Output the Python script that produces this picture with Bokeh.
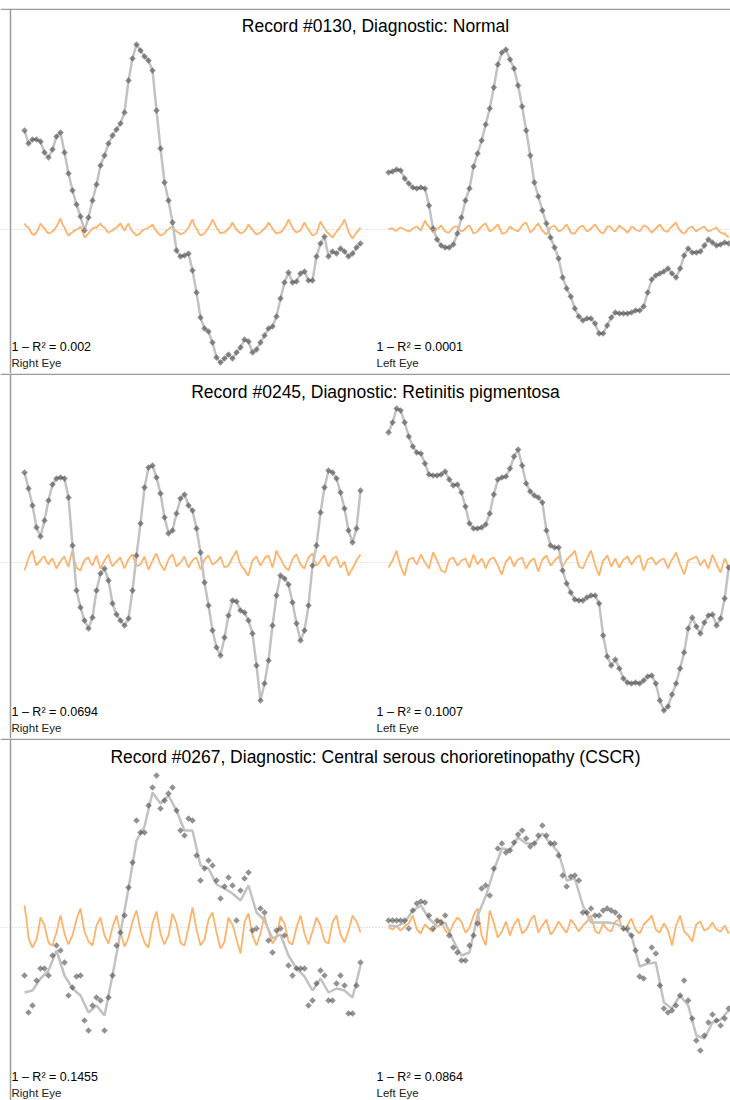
import numpy as np
from bokeh.plotting import figure
from bokeh.layouts import column
from bokeh.models import Range1d, Span, Label, Spacer
from bokeh.embed import file_html
from bokeh.resources import INLINE

# ---------------- data (values are relative amplitudes, 0 = baseline) ----------------
titles = ["Record #0130, Diagnostic: Normal",
          "Record #0245, Diagnostic: Retinitis pigmentosa",
          "Record #0267, Diagnostic: Central serous chorioretinopathy (CSCR)"]
r2_right = ["0.002", "0.0694", "0.1455"]
r2_left = ["0.0001", "0.1007", "0.0864"]
eye_right = "Right Eye"
eye_left = "Left Eye"

# Record 0130
rec1_right_pts = [99, 86, 90, 90, 88, 77, 72, 80, 93, 97,
                  77, 56, 39, 25, 13, -1, 12, 29, 45, 64,
                  74, 86, 94, 100, 106, 117, 149, 171, 185, 179,
                  173, 169, 159, 119, 81, 47, 29, 7, -21, -27,
                  -26, -24, -41, -63, -88, -99, -102, -113, -128, -133,
                  -129, -125, -129, -123, -118, -110, -112, -123, -120, -113,
                  -106, -99, -97, -87, -69, -53, -43, -53, -52, -44,
                  -42, -51, -51, -27, -14, -7, -27, -22, -24, -19,
                  -22, -27, -24, -18, -14]
rec1_right_res = [6, 3, 2, -2, -5, -5, -3, 1, 6, 3, 1, -2, -4, -3, -2, 0, 3, 7, 11, 5,
                  2, -3, -6, -4, -3, -1, 0, 1, 3, -2, -8, -6, -4, -1, 1, 2, 2, 4, 6, 3,
                  2, -1, -3, -2, -1, 1, 2, 4, 6, 2, -1, 3, 6, 1, -2, -4, -6, -5, -3, -1,
                  0, 1, 2, 3, 5, 1, -2, -4, -6, -5, -4, -1, 0, 2, 3, 0, -2, -3, -5, -4,
                  -3, -1, 2, 6, 10, 4, 1, -3, -6, -5, -4, -1, 2, 5, 10, 6, 2, -1, -4, -3,
                  -3, -1, 1, 3, 7, 3, 0, -2, -4, -3, -2, 1, 5, 2, 0, -3, -5, -4, -3, -1,
                  1, 3, 7, 4, 1, -2, -4, -3, -3, -1, 2, 5, 10, 6, 2, -1, -3, -2, -1, 3,
                  7, 3, 0, -3, -6, -5, -4, 2, 8, 4, 1, -2, -4, -6, -8, -5, -2, 0, 3, 6,
                  10, 4, -2, -6, -9, -6, -3, -1, 2]
rec1_left_pts = [57, 58, 60, 59, 51, 46, 42, 41, 42, 41,
                 24, 1, -10, -16, -18, -18, -15, -4, 12, 29,
                 41, 63, 76, 89, 105, 121, 142, 165, 177, 180,
                 170, 161, 144, 123, 99, 74, 47, 33, 19, 6,
                 -8, -18, -29, -48, -59, -67, -79, -87, -91, -89,
                 -89, -94, -104, -104, -96, -88, -83, -84, -84, -84,
                 -83, -81, -81, -77, -63, -50, -46, -44, -42, -39,
                 -44, -48, -39, -26, -19, -23, -23, -22, -16, -10,
                 -13, -16, -15, -13, -14]
rec1_left_res = [0, 1, 1, -1, -1, 1, 2, 1, 0, -1, -2, -1, 1, 2, 3, 1, -1, 4, 9, 5,
                 3, 0, -3, -2, 1, 2, 4, 1, -2, -3, -3, 0, 2, 3, 3, 0, -2, -1, 1, 3,
                 4, 0, -4, -3, -2, 1, 3, 5, 6, 2, -2, -1, 1, 3, 5, 1, -4, -4, -3, 0,
                 3, 1, 0, -1, -2, 1, 4, 6, 7, 2, -3, -1, 1, 4, 6, 2, -1, -3, -5, -2,
                 2, 3, 4, 1, -2, -1, 0, 3, 5, 1, -3, -4, -4, -1, 2, 3, 4, 1, -2, -1,
                 1, 3, 5, 2, -1, -3, -4, -1, 3, 3, 2, -1, -2, 1, 4, 2, 1, -1, -3, -1,
                 3, 2, 0, -1, -2, 1, 4, 3, 2, -1, -3, -1, 1, 3, 5, 2, -1, -2, -2, 1,
                 3, 5, 7, 2, -1, -3, -4, -2, 1, 2, 3, 0, -2, 0, 1, 2, 3, 0, -2, -1,
                 0, 1, 2, -1, -3, -4, -4, -6, -8]

# Record 0245
rec2_right_pts = [90, 74, 57, 35, 26, 42, 62, 78, 84, 85,
                  84, 65, 17, -28, -45, -58, -66, -55, -28, -11,
                  -6, -18, -41, -52, -58, -63, -56, -28, 7, 39,
                  75, 95, 97, 85, 69, 45, 29, 32, 49, 64,
                  68, 57, 52, 34, 10, -20, -43, -68, -85, -93,
                  -75, -53, -38, -39, -48, -50, -58, -71, -103, -138,
                  -121, -98, -63, -33, -13, -16, -22, -40, -61, -78,
                  -68, -43, -3, 17, 50, 75, 92, 90, 84, 70,
                  54, 32, 20, 34, 72]
rec2_right_res = [-8, -2, 4, 9, 12, 3, -3, 0, 2, 5, 6, 1, -2, 2, 4, -1, -6, -2, 1, 4,
                  6, 0, -4, 5, 12, 2, -5, -7, -8, -2, 2, 4, 5, 0, -3, 2, 7, 0, -6, -2,
                  2, 5, 8, 1, -4, -1, 1, 3, 5, -1, -6, -1, 3, 6, 8, 2, -3, -3, -2, 2,
                  6, -1, -7, -3, 2, 6, 9, 3, -2, -5, -8, -2, 3, 6, 8, 2, -4, -2, 0, 3,
                  6, 0, -5, -1, 2, 4, 5, -1, -7, -2, 3, 5, 7, 2, -2, -1, 1, 3, 6, 0,
                  -5, -4, -3, 1, 5, 8, 12, 4, -2, -5, -7, -11, -13, -5, 2, 4, 6, 1, -3, 0,
                  4, 6, 7, 1, -5, 3, 12, 7, 4, 0, -4, -6, -8, -2, 3, 6, 8, 3, -2, -4,
                  -6, 0, 5, 7, 9, 2, -3, -1, 2, 5, 7, 1, -4, 0, 4, 5, 6, 0, -5, -2,
                  1, -6, -13, -9, -6, -2, 2, 5, 8]
rec2_left_pts = [130, 140, 154, 152, 140, 126, 116, 110, 109, 99,
                 88, 87, 87, 88, 91, 83, 77, 78, 70, 56,
                 39, 34, 34, 35, 38, 49, 68, 83, 85, 86,
                 94, 106, 113, 97, 79, 71, 67, 65, 60, 32,
                 17, 15, 15, -8, -21, -30, -37, -38, -38, -35,
                 -33, -33, -41, -73, -94, -103, -97, -106, -116, -120,
                 -121, -120, -121, -118, -114, -113, -121, -138, -148, -144,
                 -132, -121, -106, -90, -66, -55, -64, -71, -60, -53,
                 -52, -63, -56, -36, -5]
rec2_left_res = [-5, -1, 2, 7, 12, 3, -4, -9, -13, -4, 3, 4, 5, 1, -2, 3, 8, 4, 0, -3,
                 -6, 2, 10, 6, 2, -3, -8, -9, -10, -3, 3, 4, 5, 1, -3, -1, 2, 3, 4, -1,
                 -5, 2, 8, 3, -2, 1, 4, 0, -6, -1, 3, 4, 5, 1, -3, -8, -12, -5, 1, 3,
                 6, 1, -4, 0, 3, 4, 5, -1, -6, -2, 1, 3, 4, -3, -9, -3, 3, 5, 7, 2,
                 -3, -1, 2, 4, 6, 1, -4, -1, 3, 5, 7, 9, 12, 4, -4, -5, -6, -1, 4, 8,
                 12, 5, -2, -8, -13, -5, 2, 4, 7, 2, -4, 0, 4, -1, -5, -1, 3, 4, 6, 2,
                 -2, 1, 4, 6, 7, -1, -8, -3, 3, 4, 5, 2, -2, 0, 2, 3, 4, -1, -6, -1,
                 3, 6, 10, 4, -2, -7, -12, -5, 2, 3, 4, 5, 6, 2, -3, 0, 3, -2, -6, 1,
                 8, 3, -2, -6, -10, -3, 4, 0, -6]

# Record 0267
rec3_right_pts = [-48, -85, -78, -53, -41, -41, -48, -28, -18, -23,
                  -35, -68, -60, -49, -48, -93, -103, -78, -70, -73,
                  -103, -70, -48, -18, -5, 12, 40, 65, 107, 95,
                  95, 122, 140, 152, 119, 127, 134, 140, 117, 97,
                  92, 109, 107, 72, 47, 59, 67, 62, 47, 29,
                  41, 50, 42, 7, 37, 49, 55, -3, -1, 19,
                  15, -13, -25, -3, -1, -8, -38, -48, -41, -41,
                  -41, -78, -73, -56, -43, -48, -73, -73, -56, -48,
                  -58, -86, -86, -58, -35]
rec3_right_fit = [-65, -63, -51, -43, -23, -48, -61, -68, -85, -78,
                  -88, -48, -5, 39, 87, 101, 135, 124, 132, 117,
                  97, 97, 62, 59, 43, 39, 34, 27, 42, 15,
                  7, -11, -7, -28, -41, -49, -63, -51, -65, -61,
                  -63, -70, -38]
rec3_right_res = [22, 8, -10, -16, -20, -16, -12, -2, 10, 6, 2, -7, -15, -17, -18, -11, -5, 4, 12, 3,
                  -6, -12, -17, -12, -8, 0, 8, 14, 19, 7, -4, -9, -14, -16, -18, -8, 2, 6, 10, 1,
                  -8, -12, -16, -8, 0, 6, 12, 3, -5, -12, -19, -15, -10, -2, 6, 12, 17, 7, -3, -9,
                  -15, -18, -20, -8, 4, 10, 16, 5, -6, -12, -17, -12, -8, 3, 14, 9, 4, -6, -15, -17,
                  -18, -9, 0, 10, 20, 9, -2, -10, -18, -15, -12, -2, 8, 12, 15, 5, -5, -13, -21, -18,
                  -14, -2, 10, 6, 3, -4, -12, -19, -26, -11, 5, 10, 14, 3, -8, -13, -18, -12, -6, 3,
                  12, 4, -3, -10, -16, -13, -10, 0, 11, 7, 4, -5, -14, -16, -17, -8, 0, 6, 12, 3,
                  -6, -12, -17, -10, -4, 3, 10, 6, 2, -6, -13, -15, -16, -5, 5, 9, 12, 2, -7, -11,
                  -15, -9, -3, 4, 12, 9, 6, 1, -5]
rec3_left_pts = [7, 7, 7, 7, 7, -1, 17, 24, 26, 25,
                 12, -1, 7, 5, 12, -8, -20, -25, -33, -33,
                 -18, -8, 4, 39, 42, 32, 59, 79, 84, 75,
                 77, 85, 93, 97, 89, 81, 84, 92, 102, 92,
                 84, 84, 72, 52, 41, 51, 52, 47, 15, 15,
                 19, 12, 12, 17, 19, 17, 15, 11, -1, -1,
                 -8, -23, -49, -51, -33, -20, -26, -58, -81, -85,
                 -83, -78, -68, -53, -73, -91, -113, -123, -108, -95,
                 -87, -93, -98, -91, -81]
rec3_left_fit = [2, 1, 5, 17, 22, 9, 1, 5, -13, -28,
                 -25, 12, 31, 57, 79, 78, 90, 84, 84, 94,
                 84, 75, 47, 49, 22, 5, 5, 5, 4, 0,
                 -8, -39, -36, -35, -75, -81, -68, -78, -108, -111,
                 -95, -92, -83]
rec3_left_res = [0, -1, -2, 0, 2, -1, -3, -1, 1, 3, 4, 8, 12, 5, -2, -4, -6, -1, 3, 1,
                 -1, -3, -4, 1, 5, 7, 8, 2, -3, -5, -6, -1, 4, 7, 10, 8, 6, 0, -5, -3,
                 0, 6, 12, 16, 19, 5, -8, -13, -18, 0, 17, 11, 5, -3, -10, -7, -4, 1, 6, -1,
                 -8, -2, 3, 6, 9, 1, -6, -4, -2, 2, 7, 10, 12, 3, -5, -1, 2, 5, 8, 0,
                 -7, -5, -2, 2, 6, 3, 0, -3, -5, 1, 8, 5, 3, -1, -4, -1, 2, 4, 6, 9,
                 12, 4, -3, -5, -6, -1, 4, 1, -2, -3, -4, 1, 6, 7, 8, 2, -3, -1, 2, 6,
                 9, 3, -2, -4, -6, -2, 3, 5, 7, 9, 12, 5, -2, -4, -5, 0, 4, 1, -3, -10,
                 -18, -8, 2, 7, 12, 4, -4, -6, -8, -11, -14, -5, 3, 5, 6, 1, -3, -2, -1, 2,
                 5, 1, -2, -3, -4, -1, 2, -2, -6]

rows = [
    dict(title=titles[0], rp=rec1_right_pts, rf=rec1_right_pts, rr=rec1_right_res,
         lp=rec1_left_pts, lf=rec1_left_pts, lr=rec1_left_res, height=365, zero=221),
    dict(title=titles[1], rp=rec2_right_pts, rf=rec2_right_pts, rr=rec2_right_res,
         lp=rec2_left_pts, lf=rec2_left_pts, lr=rec2_left_res, height=365, zero=189),
    dict(title=titles[2], rp=rec3_right_pts, rf=rec3_right_fit, rr=rec3_right_res,
         lp=rec3_left_pts, lf=rec3_left_fit, lr=rec3_left_res, height=362, zero=189),
]

# ---------------- styling ----------------
W = 730
FONT = "Liberation Sans"
PT_COLOR = "#4a4a4a"
FIT_COLOR = "#c2c2c2"
RES_COLOR = "#fdb062"
BORDER = "#9a9a9a"
R_X0, R_STEP = 24, 4.0
L_X0, L_STEP = 388, 4.05

figs = [Spacer(width=W, height=8)]
for k, r in enumerate(rows):
    H = r["height"]
    z = r["zero"]
    p = figure(width=W, height=H, output_backend="svg", toolbar_location=None,
               x_range=Range1d(0, W), y_range=Range1d(z - H, z),
               x_axis_location=None, y_axis_location=None, min_border=0)
    p.grid.visible = False
    p.outline_line_color = None
    p.background_fill_color = "white"
    p.border_fill_color = "white"
    p.extra_x_ranges = {
        "R": Range1d(-R_X0 / R_STEP, (W - R_X0) / R_STEP),
        "L": Range1d(-L_X0 / L_STEP, (W - L_X0) / L_STEP),
    }

    p.add_layout(Span(location=0, dimension="width", line_color="#c8c8c8",
                      line_dash="1 2", line_width=1))

    for side, pts, fit, res in (("R", r["rp"], r["rf"], r["rr"]),
                                ("L", r["lp"], r["lf"], r["lr"])):
        n = len(pts) - 1
        idx = list(range(len(pts)))
        fidx = np.linspace(0, n, len(fit))
        ridx = np.linspace(0, n, len(res))
        p.line(ridx, res, x_range_name=side, line_color=RES_COLOR, line_width=1.8,
               line_alpha=0.95)
        p.line(fidx, fit, x_range_name=side, line_color=FIT_COLOR, line_width=2.5)
        p.scatter(idx, pts, x_range_name=side, marker="square", angle=0.785,
                  size=4.6, fill_color=PT_COLOR, fill_alpha=0.6, line_color=None)

    # frame lines
    p.add_layout(Span(location=10, dimension="height", line_color=BORDER, line_width=1.5))
    p.add_layout(Span(location=z - 0.75, dimension="width", line_color=BORDER, line_width=1.5))

    ty = 17 if k == 0 else 18
    p.add_layout(Label(x=375, y=z - ty, text=r["title"], text_align="center",
                       text_baseline="alphabetic", text_font=FONT,
                       text_font_size="17.5px", text_color="black"))
    for lx, r2, eye in ((11, r2_right[k], eye_right), (376, r2_left[k], eye_left)):
        p.add_layout(Label(x=lx, y=z - 338, text="1 \u2013 R\u00b2 = " + r2,
                           text_align="left", text_baseline="alphabetic",
                           text_font=FONT, text_font_size="12.5px", text_color="black"))
        p.add_layout(Label(x=lx, y=z - 354, text=eye, text_align="left",
                           text_baseline="alphabetic", text_font=FONT,
                           text_font_size="11.5px", text_color="#222222"))
    figs.append(p)

layout = column(*figs, spacing=0)
open("out.html", "w").write(file_html(layout, INLINE))
